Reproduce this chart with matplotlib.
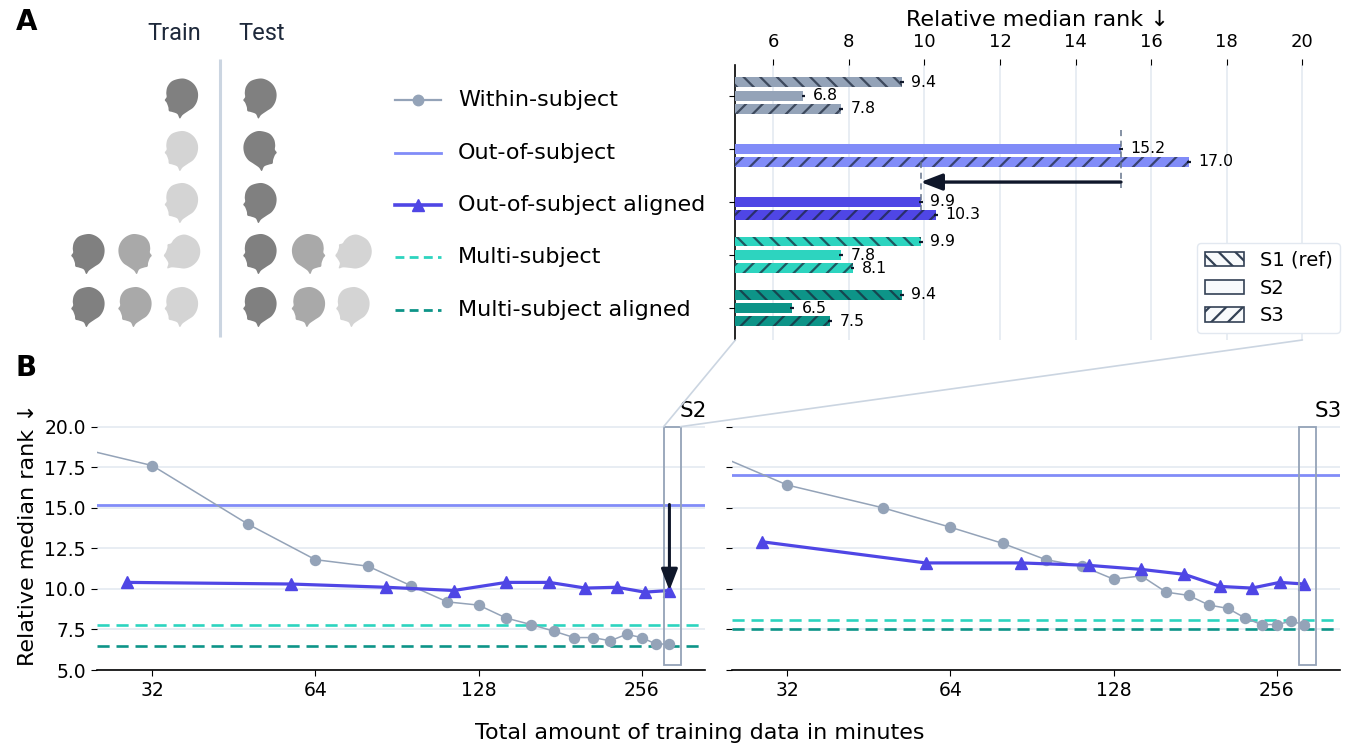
import numpy as np
import matplotlib
matplotlib.use("Agg")
import matplotlib.pyplot as plt
from matplotlib.patches import Rectangle, Patch, Polygon, ConnectionPatch
from matplotlib.ticker import FixedLocator, NullLocator

# ---------------- data ----------------
subjects = ["S1 (ref)", "S2", "S3"]
methods = ["Within-subject", "Out-of-subject", "Out-of-subject aligned",
           "Multi-subject", "Multi-subject aligned"]

bar_within = [9.4, 6.8, 7.8]
bar_out = [np.nan, 15.2, 17.0]
bar_out_aligned = [np.nan, 9.9, 10.3]
bar_multi = [9.9, 7.8, 8.1]
bar_multi_aligned = [9.4, 6.5, 7.5]

within_minutes = [16, 32, 48, 64, 80, 96, 112, 128, 144, 160, 176, 192, 208,
                  224, 240, 256, 272, 288]
s2_within = [20.0, 17.6, 14.0, 11.8, 11.4, 10.2, 9.2, 9.0, 8.2, 7.8, 7.4, 7.0,
             7.0, 6.8, 7.2, 7.0, 6.6, 6.6]
s3_within = [20.7, 16.4, 15.0, 13.8, 12.8, 11.8, 11.4, 10.6, 10.8, 9.8, 9.6,
             9.0, 8.8, 8.2, 7.8, 7.8, 8.0, 7.8]

aligned_minutes = [28.8, 57.6, 86.4, 115.2, 144.0, 172.8, 201.6, 230.4, 259.2, 288.0]
s2_aligned = [10.4, 10.3, 10.1, 9.9, 10.4, 10.4, 10.05, 10.1, 9.8, 9.9]
s3_aligned = [12.9, 11.6, 11.6, 11.45, 11.2, 10.9, 10.15, 10.05, 10.4, 10.3]

bar_ticks = [6, 8, 10, 12, 14, 16, 18, 20]
minute_ticks = [32, 64, 128, 256]
rank_ticks = [5.0, 7.5, 10.0, 12.5, 15.0, 17.5, 20.0]

# ---------------- styles ----------------
C_WITHIN = "#94a3b8"
C_OUT = "#818cf8"
C_ALIGN = "#4f46e5"
C_MULTI = "#2dd4bf"
C_MULTI_AL = "#0d9488"
C_DARK = "#0f172a"
C_GRID = "#e2e8f0"
C_CONN = "#cbd5e1"
method_colors = [C_WITHIN, C_OUT, C_ALIGN, C_MULTI, C_MULTI_AL]
hatches = ["\\\\", "", "//"]
offsets = [-0.255, 0.0, 0.245]

plt.rcParams["hatch.linewidth"] = 1.6
plt.rcParams["font.family"] = ["DejaVu Sans"]

W, H = 1356, 752
fig = plt.figure(figsize=(W / 100, H / 100), dpi=100)
fig.patch.set_facecolor("white")


def px_axes(l, t, r, b, **kw):
    return fig.add_axes([l / W, 1 - b / H, (r - l) / W, (b - t) / H], **kw)


# ---------------- background axes for icons / legend ----------------
axbg = px_axes(0, 0, W, H, zorder=-5)
axbg.set_xlim(0, W)
axbg.set_ylim(H, 0)
axbg.axis("off")


def catmull_rom_closed(pts, n=8):
    pts = np.asarray(pts, float)
    N = len(pts)
    out = []
    for i in range(N):
        p0, p1, p2, p3 = pts[i - 1], pts[i], pts[(i + 1) % N], pts[(i + 2) % N]
        for t in np.linspace(0, 1, n, endpoint=False):
            t2, t3 = t * t, t * t * t
            out.append(0.5 * ((2 * p1) + (-p0 + p2) * t
                              + (2 * p0 - 5 * p1 + 4 * p2 - p3) * t2
                              + (-p0 + 3 * p1 - 3 * p2 + p3) * t3))
    return np.array(out)


head_outline = [(16.7, 0), (23.5, 1.5), (29, 5.5), (32.3, 11), (33.3, 17),
                (32, 23.5), (28.5, 29), (23.5, 32.5), (17.8, 36.5), (15, 40),
                (12.5, 35.5), (7.5, 33.5), (4.2, 32.5), (3.6, 29), (2.6, 26),
                (1.6, 23.8), (0, 21.5), (1.8, 18.5), (1.5, 14), (2.8, 8), (7.5, 2.5)]
head_shape = catmull_rom_closed(head_outline, 8) - np.array([16.7, 20.0])

DARK, MID, LIGHT = "#808080", "#a9a9a9", "#d4d4d4"
rows_y = [98.5, 151, 203, 254, 307]
heads = [
    # (x, row, color, flip, rot)
    (181.5, 0, DARK, False, 0), (260, 0, DARK, False, 0),
    (181.5, 1, LIGHT, False, 0), (260, 1, DARK, True, 0),
    (181.5, 2, LIGHT, False, 0), (260, 2, DARK, False, 0),
    (88, 3, DARK, False, 0), (135, 3, MID, True, 0), (181.5, 3, LIGHT, False, 40),
    (260, 3, DARK, False, 0), (308.5, 3, MID, True, 0), (353, 3, LIGHT, False, 40),
    (88, 4, DARK, False, 0), (135, 4, MID, False, 0), (181.5, 4, LIGHT, False, 0),
    (260, 4, DARK, False, 0), (308.5, 4, MID, False, 0), (353, 4, LIGHT, False, 0),
]
for hx, r, col, flip, rot in heads:
    pts = head_shape.copy()
    if flip:
        pts[:, 0] = -pts[:, 0]
    th = np.deg2rad(rot)
    R = np.array([[np.cos(th), -np.sin(th)], [np.sin(th), np.cos(th)]])
    pts = pts @ R.T
    pts = pts + np.array([hx, rows_y[r]])
    axbg.add_patch(Polygon(pts, closed=True, fc=col, ec="none"))

axbg.plot([220, 220], [59, 337], color=C_CONN, lw=2.2, solid_capstyle="butt")
axbg.text(174, 34, "Train", fontsize=17, family=["Roboto", "DejaVu Sans"],
          color="#1e293b", ha="center", va="center")
axbg.text(262, 34, "Test", fontsize=17, family=["Roboto", "DejaVu Sans"],
          color="#1e293b", ha="center", va="center")

# method legend
leg_rows = [100, 153, 205, 257, 310]
leg_styles = [
    dict(color=C_WITHIN, lw=1.6, marker="o", ms=7.5),
    dict(color=C_OUT, lw=2.0),
    dict(color=C_ALIGN, lw=2.6, marker="^", ms=8.5),
    dict(color=C_MULTI, lw=2.0, ls=(0, (3.2, 1.9))),
    dict(color=C_MULTI_AL, lw=2.0, ls=(0, (3.2, 1.9))),
]
for name, yy, st in zip(methods, leg_rows, leg_styles):
    axbg.plot([395, 441], [yy, yy], **{k: v for k, v in st.items() if k not in ("marker", "ms")})
    if "marker" in st:
        axbg.plot([418], [yy], marker=st["marker"], ms=st["ms"], color=st["color"], ls="none")
    axbg.text(458, yy, name, fontsize=16, va="center", ha="left", color="black")

fig.text(16 / W, 1 - 22 / H, "A", fontsize=20, fontweight="bold", va="center")
fig.text(16 / W, 1 - 368 / H, "B", fontsize=20, fontweight="bold", va="center")

# ---------------- bar chart ----------------
axb = px_axes(735.4, 65, 1340.2, 340)
bar_data = [bar_within, bar_out, bar_out_aligned, bar_multi, bar_multi_aligned]
for g, (vals, col) in enumerate(zip(bar_data, method_colors)):
    for s, v in enumerate(vals):
        if np.isnan(v):
            continue
        y = g + offsets[s]
        axb.barh(y, v - 5, left=5, height=0.185, color=col, hatch=hatches[s],
                 edgecolor=(0.10, 0.14, 0.22, 0.7), linewidth=0, zorder=3)
        axb.errorbar(v, y, xerr=0.05, color=C_DARK, lw=1.6, capsize=0, zorder=4)
        axb.annotate(f"{v:.1f}", xy=(v, y), xytext=(7, 0), textcoords="offset points",
                     va="center", ha="left", fontsize=11.3, zorder=5)

axb.set_xlim(5, 21)
axb.set_ylim(4.6, -0.58)
axb.xaxis.tick_top()
axb.xaxis.set_label_position("top")
axb.set_xticks(bar_ticks)
axb.tick_params(axis="x", labelsize=13, length=4, pad=6, color="black")
axb.set_yticks(range(len(methods)))
axb.set_yticklabels([])
axb.tick_params(axis="y", length=4)
axb.set_xlabel("Relative median rank ↓", fontsize=16, labelpad=5)
for sp in ["top", "right", "bottom"]:
    axb.spines[sp].set_visible(False)
axb.spines["left"].set_linewidth(1.2)
axb.grid(axis="x", color=C_GRID, lw=1.1, zorder=0)
axb.set_axisbelow(True)

# arrow and dashed markers
axb.plot([bar_out[1], bar_out[1]], [0.645, 1.742], color="#64748b", lw=1.1,
         ls=(0, (4, 3)), zorder=6)
axb.plot([bar_out_aligned[1], bar_out_aligned[1]], [1.253, 2.15], color="#64748b",
         lw=1.1, ls=(0, (4, 3)), zorder=6)
axb.annotate("", xy=(bar_out_aligned[1], 1.625), xytext=(bar_out[1], 1.625),
             arrowprops=dict(arrowstyle="-|>,head_length=0.65,head_width=0.25",
                             color=C_DARK, lw=2.4, mutation_scale=20,
                             shrinkA=0, shrinkB=0), zorder=7)

sub_handles = [Patch(facecolor="#f8fafc", edgecolor="#334155", hatch=h, lw=1.2)
               for h in hatches]
axb.legend(sub_handles, subjects, loc="lower right", bbox_to_anchor=(1.0, 0.025),
           fontsize=14, frameon=True, edgecolor="#e2e8f0", framealpha=1,
           handlelength=2.0, handleheight=0.75, handletextpad=0.8,
           labelspacing=0.45, borderpad=0.4, borderaxespad=0.0)

# ---------------- line panels ----------------
ax1 = px_axes(97, 423.4, 705, 670)
ax2 = px_axes(732, 423.4, 1340, 670)

panels = [
    (ax1, s2_within, s2_aligned, 1, "S2"),
    (ax2, s3_within, s3_aligned, 2, "S3"),
]
for ax, w_vals, a_vals, si, lab in panels:
    ax.set_xscale("log", base=2)
    ax.axhline(bar_out[si], color=C_OUT, lw=2.0, zorder=3)
    ax.axhline(bar_multi[si], color=C_MULTI, lw=1.9, ls=(0, (4.6, 2.6)), zorder=3)
    ax.axhline(bar_multi_aligned[si], color=C_MULTI_AL, lw=1.9, ls=(0, (4.6, 2.6)), zorder=3)
    ax.plot(within_minutes, w_vals, color=C_WITHIN, lw=1.1, marker="o", ms=7.2,
            zorder=4)
    ax.plot(aligned_minutes, a_vals, color=C_ALIGN, lw=2.3, marker="^", ms=8,
            zorder=5)
    ax.add_patch(Rectangle((281, 5.3), 302 - 281, 20.0 - 5.3, fill=False,
                           ec=C_WITHIN, lw=1.3, zorder=6))
    ax.annotate(lab, xy=(302, 20.0), xytext=(-1, 7), textcoords="offset points",
                ha="left", va="baseline", fontsize=15.5, annotation_clip=False)
    ax.set_xlim(25.3, 335)
    ax.set_ylim(5, 20.2)
    ax.xaxis.set_major_locator(FixedLocator(minute_ticks))
    ax.xaxis.set_minor_locator(NullLocator())
    ax.set_xticklabels([str(t) for t in minute_ticks])
    ax.set_yticks(rank_ticks)
    ax.tick_params(axis="both", labelsize=13.5, length=4.5)
    ax.grid(axis="y", color=C_GRID, lw=1.1, zorder=0)
    ax.set_axisbelow(True)
    for sp in ["top", "right", "left"]:
        ax.spines[sp].set_visible(False)
    ax.spines["bottom"].set_linewidth(1.2)

ax1.set_yticklabels([f"{t:.1f}" for t in rank_ticks])
ax2.set_yticklabels([])

ax1.annotate("", xy=(aligned_minutes[-1], s2_aligned[-1]),
             xytext=(aligned_minutes[-1], bar_out[1]),
             arrowprops=dict(arrowstyle="-|>,head_length=0.65,head_width=0.25",
                             color=C_DARK, lw=2.2, mutation_scale=20,
                             shrinkA=0, shrinkB=0), zorder=8)

fig.text(28 / W, 1 - 535 / H, "Relative median rank ↓", rotation=90,
         fontsize=16, ha="center", va="center")
fig.text(700 / W, 1 - 733 / H, "Total amount of training data in minutes",
         fontsize=16, ha="center", va="center")

# zoom connection lines
for xa, xb in [(5, 281), (20, 302)]:
    con = ConnectionPatch(xyA=(xa, 4.6), coordsA=axb.transData,
                          xyB=(xb, 20.0), coordsB=ax1.transData,
                          color=C_CONN, lw=1.2, zorder=1)
    fig.add_artist(con)

fig.savefig("out.png", dpi=100)
